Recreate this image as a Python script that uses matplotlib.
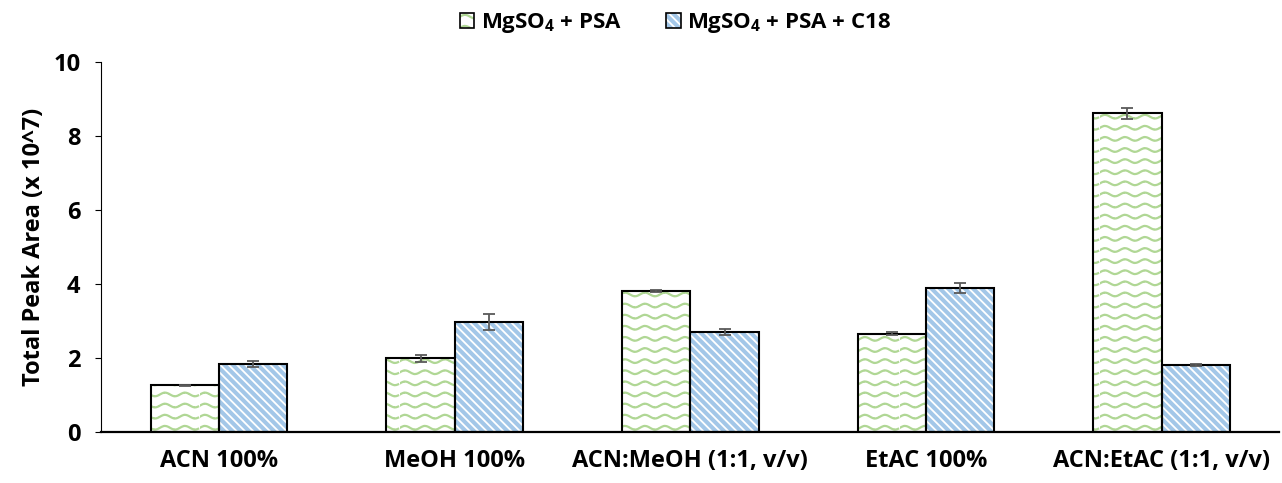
import warnings
import numpy as np
import matplotlib
matplotlib.use("Agg")
import matplotlib.pyplot as plt
import matplotlib.hatch as mhatch
from matplotlib.path import Path
from matplotlib.patches import Patch
from matplotlib.legend_handler import HandlerTuple

warnings.filterwarnings("ignore")

# ── data ──────────────────────────────────────────────────────────────
solvents = ["ACN 100%", "MeOH 100%", "ACN:MeOH (1:1, v/v)", "EtAC 100%", "ACN:EtAC (1:1, v/v)"]
psa = [1.26, 1.99, 3.82, 2.65, 8.61]
psa_err = [0.02, 0.10, 0.03, 0.04, 0.16]
psa_c18 = [1.84, 2.98, 2.71, 3.89, 1.81]
psa_c18_err = [0.07, 0.21, 0.08, 0.125, 0.03]
series_labels = ["MgSO$_4$ + PSA", "MgSO$_4$ + PSA + C18"]

GREEN = "#B0D795"
BLUE = "#A3C7E8"
ERR = "#595959"
FONT = "Open Sans"
FS = 17


# wavy dashed hatch (Excel "wave" pattern), triggered by '~'
class WaveHatch(mhatch.HatchPatternBase):
    rows, periods, dashes, pts = 9, 5, 4, 5

    def __init__(self, hatch, density):
        on = "~" in hatch
        self.num_vertices = (self.rows * self.periods * self.dashes * self.pts) if on else 0

    def set_vertices_and_codes(self, vertices, codes):
        step = 1.0 / (self.periods * self.dashes)
        k = 0
        for r in range(self.rows):
            y0 = (r + 0.5) / self.rows
            for d in range(self.periods * self.dashes):
                xs = np.linspace(d * step, d * step + step * 0.62, self.pts)
                ys = y0 + 0.018 * np.sin(2 * np.pi * self.periods * xs)
                vertices[k:k + self.pts, 0] = xs
                vertices[k:k + self.pts, 1] = ys
                codes[k] = Path.MOVETO
                codes[k + 1:k + self.pts] = Path.LINETO
                k += self.pts


# wide diagonal stripes (Excel "wide downward diagonal"), triggered by '!'
class StripeHatch(mhatch.HatchPatternBase):
    n, wd = 12, 0.026

    def __init__(self, hatch, density):
        on = "!" in hatch
        self.count = 2 * self.n + 2
        self.num_vertices = self.count * 5 if on else 0

    def set_vertices_and_codes(self, vertices, codes):
        k = 0
        for j in range(-1, 2 * self.n + 1):
            a = j / self.n
            quad = [(a + 0.5, -0.5), (a - 1.5, 1.5), (a + self.wd - 1.5, 1.5),
                    (a + self.wd + 0.5, -0.5), (a + 0.5, -0.5)]
            vertices[k:k + 5] = quad
            codes[k] = Path.MOVETO
            codes[k + 1:k + 4] = Path.LINETO
            codes[k + 4] = Path.CLOSEPOLY
            k += 5


mhatch._hatch_types.extend([WaveHatch, StripeHatch])

plt.rcParams["font.family"] = [FONT, "DejaVu Sans"]
plt.rcParams["font.weight"] = "bold"
plt.rcParams["mathtext.fontset"] = "custom"
plt.rcParams["mathtext.rm"] = FONT + ":bold"
plt.rcParams["mathtext.default"] = "rm"
plt.rcParams["hatch.linewidth"] = 1.6

fig = plt.figure(figsize=(12.82, 4.83), dpi=100)
ax = fig.add_axes([0.079, 0.1056, 0.919, 0.766])

x = np.arange(len(solvents))
w = 0.29


def hatched_bars(xpos, vals, hatch, color):
    bars = ax.bar(xpos, vals, w, facecolor="white", edgecolor=color, linewidth=0, hatch=hatch, zorder=2)
    ax.bar(xpos, vals, w, fill=False, edgecolor="black", linewidth=1.5, zorder=3)
    return bars


hatched_bars(x - w / 2, psa, "~", GREEN)
hatched_bars(x + w / 2, psa_c18, "!", BLUE)

ax.errorbar(x - w / 2, psa, yerr=psa_err, fmt="none", ecolor=ERR, elinewidth=1.3,
            capsize=4.5, capthick=1.3, zorder=4)
ax.errorbar(x + w / 2, psa_c18, yerr=psa_c18_err, fmt="none", ecolor=ERR, elinewidth=1.3,
            capsize=4.5, capthick=1.3, zorder=4)

ax.set_xlim(-0.5, len(solvents) - 0.5)
ax.set_ylim(0, 10)
ax.set_yticks(np.arange(0, 11, 2))
ax.set_xticks(x)
ax.set_xticklabels(solvents, fontsize=FS, fontweight="bold")
ax.tick_params(axis="x", length=0, pad=12)
ax.tick_params(axis="y", length=4, width=0.8, direction="out", pad=11, labelsize=FS)
for t in ax.get_yticklabels():
    t.set_fontweight("bold")
ax.set_ylabel("Total Peak Area (x 10^7)", fontsize=FS, fontweight="bold", labelpad=5)

for s in ("top", "right"):
    ax.spines[s].set_visible(False)
ax.spines["bottom"].set_linewidth(1.6)
ax.spines["left"].set_linewidth(0.8)

# legend
h1 = (Patch(facecolor="white", edgecolor=GREEN, linewidth=0, hatch="~"),
      Patch(fill=False, edgecolor="black", linewidth=1.2))
h2 = (Patch(facecolor="white", edgecolor=BLUE, linewidth=0, hatch="!"),
      Patch(fill=False, edgecolor="black", linewidth=1.2))
fig.legend([h1, h2], series_labels, handler_map={tuple: HandlerTuple(ndivide=1)},
           loc="center", bbox_to_anchor=(0.527, 0.952), ncol=2, frameon=False,
           prop={"size": 16, "weight": "bold"}, handlelength=0.65, handleheight=0.65,
           handletextpad=0.3, columnspacing=2.0)

fig.savefig("out.png", dpi=100)
